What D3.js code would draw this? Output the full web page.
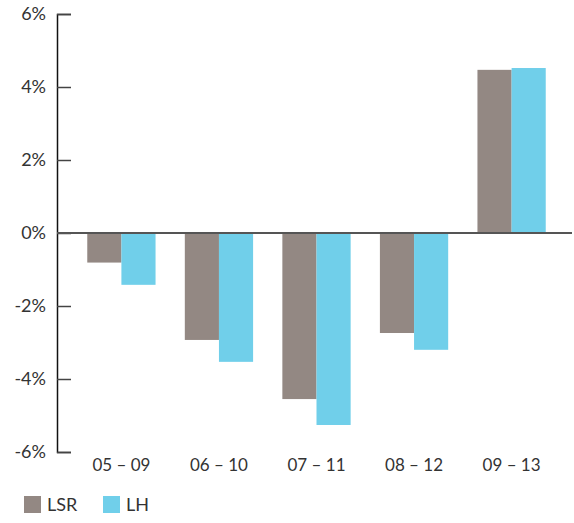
<!DOCTYPE html>
<html>
<head>
<meta charset="utf-8">
<script src="https://cdn.jsdelivr.net/npm/d3@7"></script>
<style>
  body { margin: 0; background: #fff; }
  svg text { font-family: Lato, "Noto Sans", sans-serif; fill: #333; }
</style>
</head>
<body>
<svg id="chart" width="574" height="523"></svg>
<script>
const periods = ['05 – 09', '06 – 10', '07 – 11', '08 – 12', '09 – 13']
const lsr = [-0.81, -2.93, -4.55, -2.74, 4.47]
const lh = [-1.42, -3.53, -5.26, -3.2, 4.52]
const yTicks = [-6, -4, -2, 0, 2, 4, 6]
const seriesNames = ['LSR', 'LH']
const colors = ['#938883', '#70cfea']

const svg = d3.select('#chart')
const plotLeft = 57, plotRight = 572, plotTop = 14, plotBottom = 452

const y = d3.scaleLinear().domain([-6, 6]).range([plotBottom, plotTop])
const x = d3.scaleBand()
  .domain(periods)
  .range([plotLeft + 1, plotRight + 3])
  .paddingInner(0.3)
  .paddingOuter(0.3)
const xs = d3.scaleBand().domain(seriesNames).range([0, x.bandwidth()])

// y-axis
const yAxis = svg.append('g')
  .attr('transform', `translate(${plotLeft},0)`)
  .call(d3.axisRight(y).tickValues(yTicks).tickSize(14).tickFormat(d => d + '%'))
yAxis.select('.domain').attr('stroke', '#111').attr('stroke-width', 1.5)
yAxis.selectAll('.tick line').attr('stroke', '#444').attr('stroke-width', 1.5)
yAxis.selectAll('.tick text')
  .attr('x', -11)
  .attr('text-anchor', 'end')
  .style('font-size', '18px')
  .attr('fill', '#333')

// bars
const data = periods.map((p, i) => ({ p, vals: [lsr[i], lh[i]] }))
const groups = svg.append('g').selectAll('g')
  .data(data)
  .join('g')
  .attr('transform', d => `translate(${x(d.p)},0)`)
groups.selectAll('rect')
  .data(d => d.vals.map((v, j) => ({ v, name: seriesNames[j], c: colors[j] })))
  .join('rect')
  .attr('x', d => xs(d.name))
  .attr('width', xs.bandwidth())
  .attr('y', d => y(Math.max(0, d.v)))
  .attr('height', d => Math.abs(y(d.v) - y(0)))
  .attr('fill', d => d.c)

// zero line
svg.append('line')
  .attr('x1', plotLeft).attr('x2', plotRight)
  .attr('y1', y(0)).attr('y2', y(0))
  .attr('stroke', '#555').attr('stroke-width', 2)

// category labels
svg.append('g').selectAll('text')
  .data(periods)
  .join('text')
  .attr('x', d => x(d) + x.bandwidth() / 2)
  .attr('y', 471)
  .attr('text-anchor', 'middle')
  .style('font-size', '17px')
  .text(d => d)

// legend
const legend = svg.append('g').attr('transform', 'translate(24,496)')
const items = legend.selectAll('g')
  .data(seriesNames)
  .join('g')
  .attr('transform', (d, i) => `translate(${i * 79},0)`)
items.append('rect')
  .attr('width', 17).attr('height', 17)
  .attr('fill', (d, i) => colors[i])
items.append('text')
  .attr('x', 23).attr('y', 15)
  .style('font-size', '18px')
  .text(d => d)
</script>
</body>
</html>
